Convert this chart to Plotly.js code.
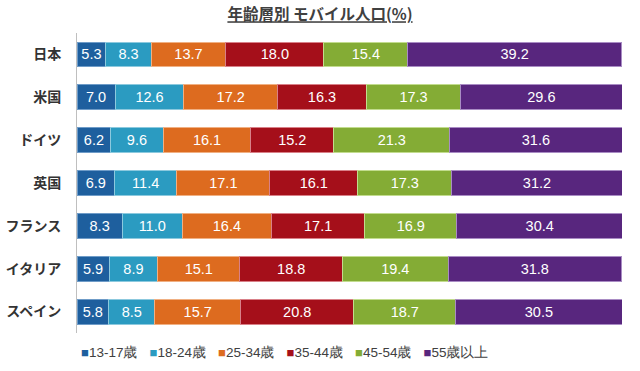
<!DOCTYPE html>
<html>
<head>
<meta charset="utf-8">
<script src="https://cdn.plot.ly/plotly-3.0.1.min.js"></script>
<style>html,body{margin:0;padding:0;background:#fff;}#chart{width:640px;height:371px;}</style>
</head>
<body>
<div id="chart"></div>
<script>
var countries = ["日本", "米国", "ドイツ", "英国", "フランス", "イタリア", "スペイン"];
var seriesNames = ["13-17歳", "18-24歳", "25-34歳", "35-44歳", "45-54歳", "55歳以上"];
var age13_17 = [5.3, 7.0, 6.2, 6.9, 8.3, 5.9, 5.8];
var age18_24 = [8.3, 12.6, 9.6, 11.4, 11.0, 8.9, 8.5];
var age25_34 = [13.7, 17.2, 16.1, 17.1, 16.4, 15.1, 15.7];
var age35_44 = [18.0, 16.3, 15.2, 16.1, 17.1, 18.8, 20.8];
var age45_54 = [15.4, 17.3, 21.3, 17.3, 16.9, 19.4, 18.7];
var age55plus = [39.2, 29.6, 31.6, 31.2, 30.4, 31.8, 30.5];
var seriesValues = [age13_17, age18_24, age25_34, age35_44, age45_54, age55plus];
var colors = ["#1e5f9e", "#2b9bc1", "#dd6b1f", "#a50f1a", "#84ac35", "#58267e"];
var edgeColors = ["#6f9cc8", "#8cc9de", "#f0b083", "#d98088", "#c2dc8e", "#a98cc4"];

var traces = [];
seriesValues.forEach(function (vals, i) {
  traces.push({
    type: "bar",
    orientation: "h",
    y: countries,
    x: vals,
    name: seriesNames[i],
    showlegend: false,
    marker: { color: colors[i], line: { color: edgeColors[i], width: 1 } },
    text: vals.map(function (v) { return v.toFixed(1); }),
    textposition: "inside",
    insidetextanchor: "middle",
    constraintext: "none",
    textangle: 0,
    textfont: { family: "Liberation Sans, Arial, sans-serif", size: 14.5, color: "#ffffff" },
    hoverinfo: "x+name"
  });
});
seriesNames.forEach(function (n, i) {
  traces.push({
    type: "scatter",
    mode: "markers",
    x: [null],
    y: [null],
    name: '<span style="color:' + colors[i] + ';font-size:13px;">■</span>' + n,
    marker: { symbol: "square", size: 1, color: "rgba(0,0,0,0)" },
    showlegend: true
  });
});
// spacer entry so the last legend label is not clipped
traces.push({
  type: "scatter", mode: "markers", x: [null], y: [null], name: " ",
  marker: { symbol: "square", size: 1, color: "rgba(0,0,0,0)" }, showlegend: true
});

var layout = {
  width: 640,
  height: 371,
  margin: { l: 77, r: 18, t: 33, b: 38, autoexpand: false },
  paper_bgcolor: "#ffffff",
  plot_bgcolor: "#ffffff",
  barmode: "stack",
  bargap: 0.42,
  title: {
    text: "<b><u>年齢層別 モバイル人口(%)</u></b>",
    x: 0.5,
    xanchor: "center",
    y: 0.96,
    yanchor: "middle",
    font: { family: "Noto Sans CJK JP, sans-serif", size: 15.5, color: "#404040" }
  },
  xaxis: {
    range: [0, 100],
    visible: false,
    fixedrange: true
  },
  yaxis: {
    type: "category",
    autorange: "reversed",
    showgrid: false,
    zeroline: false,
    showline: true,
    linecolor: "#bfbfbf",
    linewidth: 1,
    ticks: "",
    ticklabelstandoff: 12,
    tickfont: { family: "Noto Sans CJK JP, sans-serif", size: 14, color: "#333333", weight: "bold" }
  },
  legend: {
    orientation: "h",
    traceorder: "normal",
    x: -0.066,
    xanchor: "left",
    y: -0.012,
    yanchor: "top",
    font: { family: "Liberation Sans, Arial, sans-serif", size: 13.5, color: "#404040" },
    itemwidth: 30,
    entrywidth: 23.5,
    tracegroupgap: 0
  },
  showlegend: true
};

Plotly.newPlot("chart", traces, layout, { displayModeBar: false, staticPlot: true });
</script>
</body>
</html>
